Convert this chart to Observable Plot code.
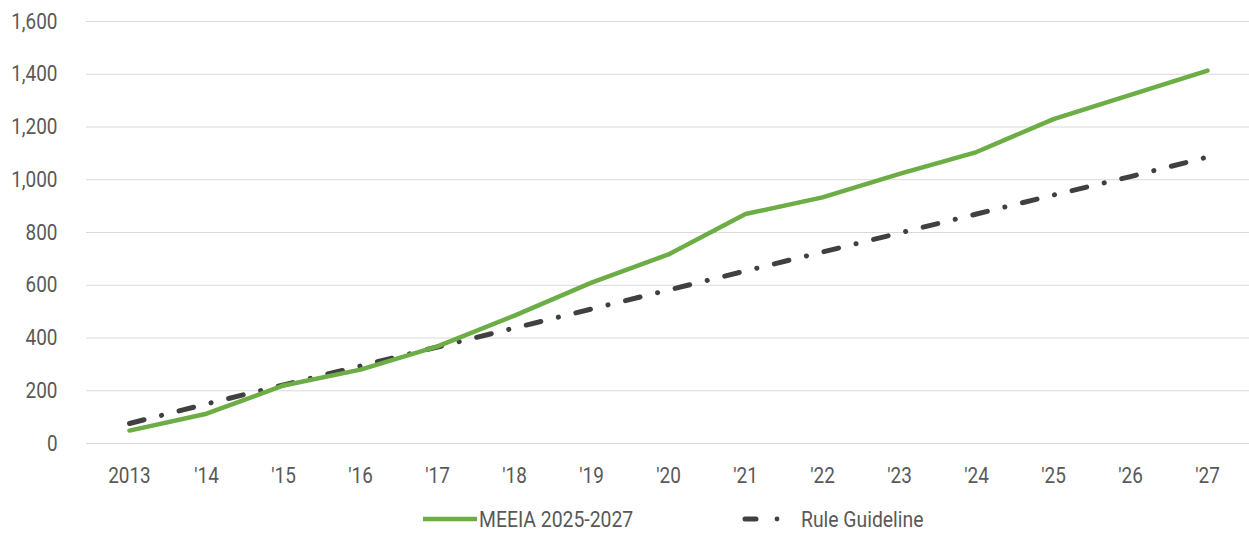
<!DOCTYPE html>
<html>
<head>
<meta charset="utf-8">
<script src="https://cdn.jsdelivr.net/npm/d3@7"></script>
<script src="https://cdn.jsdelivr.net/npm/@observablehq/plot@0.6"></script>
<style>
  body { margin: 0; background: #fff; font-family: Roboto, sans-serif; color: #595959; }
  svg { display: block; }
</style>
</head>
<body>
<div id="chart"></div>
<svg id="legend" width="1249" height="34" font-family="Roboto, sans-serif" font-size="22" fill="#595959">
  <line x1="423" y1="19" x2="477" y2="19" stroke="#6CAD45" stroke-width="4.5"/>
  <text x="479" y="27" class="cond">MEEIA 2025-2027</text>
  <line x1="745" y1="19" x2="756" y2="19" stroke="#404040" stroke-width="5" stroke-linecap="round"/>
  <circle cx="777" cy="19" r="2.4" fill="#404040"/>
  <text x="801" y="27" class="cond">Rule Guideline</text>
</svg>
<script>
const years = ["2013","'14","'15","'16","'17","'18","'19","'20","'21","'22","'23","'24","'25","'26","'27"];
const meeia = [49, 113, 220, 280, 368, 485, 610, 717, 870, 933, 1022, 1105, 1230, 1322, 1414];
const guideline = [76, 150, 222, 294, 366, 438, 510, 582, 654, 726, 798, 870, 942, 1012, 1086];
const yTicks = [0, 200, 400, 600, 800, 1000, 1200, 1400, 1600];

const data = [];
years.forEach((y, i) => {
  data.push({year: y, value: meeia[i], series: "MEEIA 2025-2027"});
  data.push({year: y, value: guideline[i], series: "Rule Guideline"});
});

const chart = Plot.plot({
  width: 1249,
  height: 500,
  marginLeft: 86,
  marginRight: 0,
  marginTop: 21,
  marginBottom: 57,
  style: {fontFamily: "Roboto, sans-serif", fontSize: "22px", color: "#595959", background: "#fff"},
  x: {type: "point", domain: years, padding: 0.5, label: null},
  y: {domain: [0, 1600], ticks: yTicks, label: null},
  marks: [
    Plot.gridY(yTicks, {stroke: "#d9d9d9", strokeOpacity: 1, strokeWidth: 1.2}),
    Plot.axisY(yTicks, {tickSize: 0, tickPadding: 29, tickFormat: d3.format(","), fill: "#595959"}),
    Plot.axisX({tickSize: 0, tickPadding: 24, fill: "#595959"}),
    Plot.line(data.filter(d => d.series === "Rule Guideline"), {x: "year", y: "value", stroke: "#404040", strokeWidth: 5, strokeLinecap: "round", strokeDasharray: "15,18,0.1,18"}),
    Plot.line(data.filter(d => d.series === "MEEIA 2025-2027"), {x: "year", y: "value", stroke: "#6CAD45", strokeWidth: 4.5})
  ]
});
document.getElementById("chart").appendChild(chart);

// emulate a condensed face by narrowing glyphs horizontally
function condense(sel, factor) {
  sel.forEach(t => {
    const len = t.getComputedTextLength();
    if (len > 0) {
      t.setAttribute("textLength", (len * factor).toFixed(1));
      t.setAttribute("lengthAdjust", "spacingAndGlyphs");
    }
  });
}
condense(chart.querySelectorAll("text"), 0.86);
condense(document.querySelectorAll("#legend text"), 0.88);
</script>
</body>
</html>
